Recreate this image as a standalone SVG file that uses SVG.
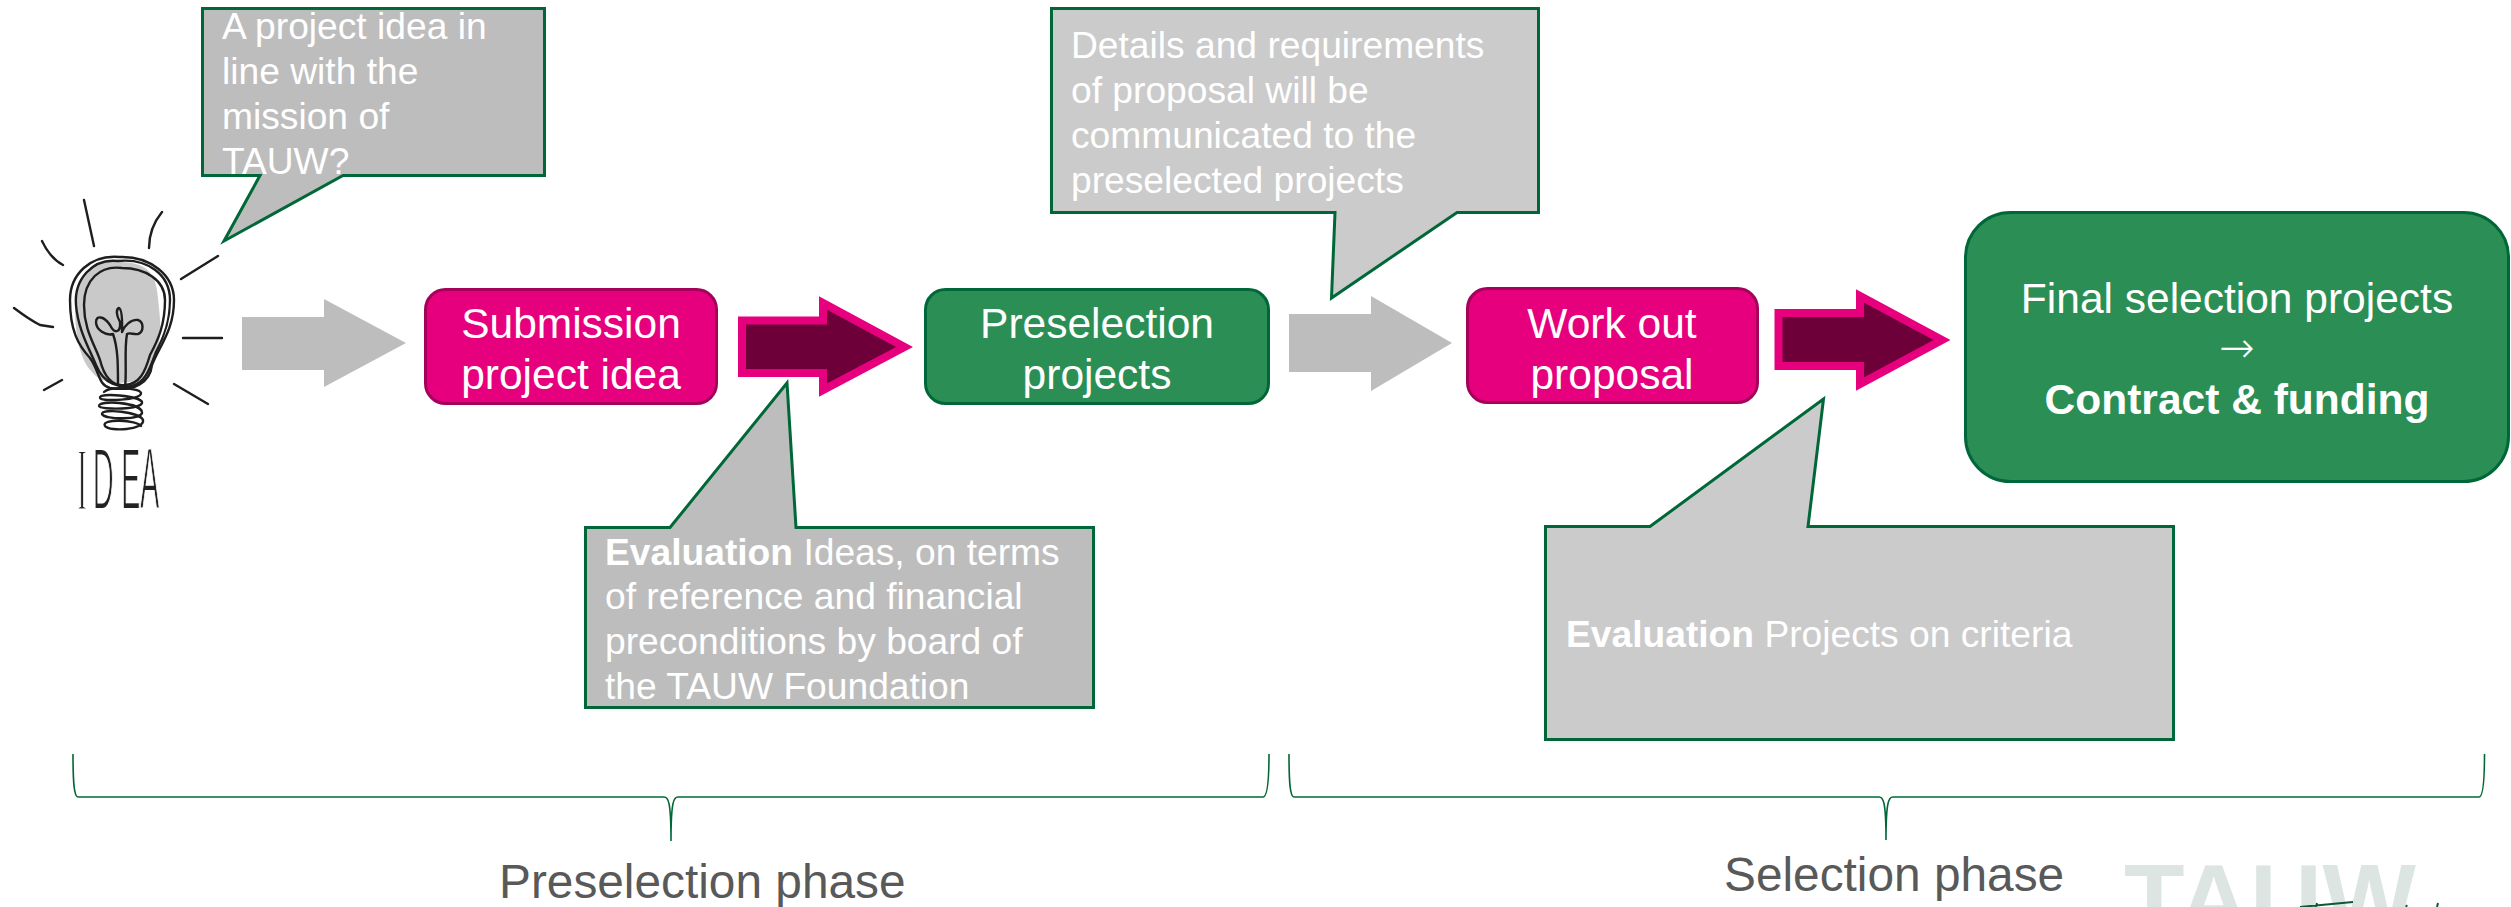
<svg xmlns="http://www.w3.org/2000/svg" width="2511" height="907" viewBox="0 0 2511 907">
<style>
text{font-family:"Liberation Sans",Arial,sans-serif}
.node{font-size:42.5px;fill:#fff;text-anchor:middle}
.call{font-size:37.2px;fill:#fff}
.phase{font-size:47.8px;fill:#595959}
.cd{fill:#bdbdbd;stroke:#006838;stroke-width:3}
.cl{fill:#cbcbcb;stroke:#006838;stroke-width:3}
.pink{fill:#e6007e;stroke:#a5005a;stroke-width:3}
.green{fill:#2b8f55;stroke:#006838;stroke-width:3}
.gray{fill:#bdbdbd}
.dark{fill:#6d0038;stroke:#e6007e;stroke-width:8;stroke-miterlimit:10}
.brace{fill:none;stroke:#006838;stroke-width:1.6}
.ink{fill:none;stroke:#1e1e1e;stroke-width:2.4;stroke-linecap:round;stroke-linejoin:round}
.b{font-weight:700}
</style>
<rect width="2511" height="907" fill="#fff"/>
<g id="logo">
<text x="2124" y="933" font-size="99" font-weight="700" fill="#dce5e1" textLength="292" lengthAdjust="spacing">TAUW</text>
<path d="M2300,907 L2353,902 M2317,903 L2316,907 M2407,905 L2406,907 M2438,903 L2437,907" fill="none" stroke="#0f5a34" stroke-width="2"/>
</g>
<g id="idea-bulb">
<path d="M118,262 C92,258 74,276 75,305 C75,335 80,360 92,372 C100,382 112,384 130,382 C146,380 150,366 156,352 C163,335 160,320 158,298 C156,272 146,262 118,262Z" fill="#c9c9c9"/>
<path class="ink" d="M84,200 L94,246 M162,212 Q149,228 149,248 M42,241 Q50,258 63,265 M218,256 L181,279 M14,308 Q30,320 40,325 L53,327 M183,338 L222,338 M62,380 L44,390 M174,384 L208,404"/>
<path class="ink" d="M120,257 C90,254 70,275 70,300 C70,330 78,345 90,358 C100,372 98,385 110,388 C135,392 150,382 152,365 C160,345 174,330 174,300 C174,275 150,256 120,257Z"/>
<path class="ink" d="M122,268 C100,265 84,280 84,305 C84,330 95,345 100,360 C105,380 115,386 125,385 C140,384 145,372 150,355 C158,340 165,325 165,300 C165,280 145,268 122,268Z"/>
<path class="ink" d="M118,261 C92,258 74,280 76,305 C78,330 90,350 96,365 C104,385 120,388 132,386 C146,382 150,368 156,352 C165,335 170,320 170,300 C170,275 148,258 118,261Z"/>
<path class="ink" d="M118,385 C118,365 118,348 113,334 C106,336 96,330 96,322 C96,315 104,316 110,325 C115,335 121,332 120,322 C116,315 116,309 119,308 C123,310 122,325 122,332 C124,326 131,319 138,320 C144,322 144,332 138,334 C134,335 130,332 127,334 C124,350 127,370 125,388"/>
<path class="ink" d="M104,392 C110,386 140,388 141,393 C142,400 102,402 100,398 C98,392 140,396 142,402 C144,410 100,410 99,406 C98,400 140,402 142,412 C144,420 104,420 102,414 C102,408 140,412 143,420 C145,430 110,432 105,426 C100,418 138,420 141,426"/>
<text transform="translate(76,509) scale(0.33,1)" font-size="88" fill="#222" stroke="#fff" stroke-width="2"><tspan x="4" font-family="Liberation Serif">I</tspan><tspan x="51">D</tspan><tspan x="136">E</tspan><tspan x="194">A</tspan></text>
</g>
<g id="connectors">
<polygon id="arrow-1" class="gray" points="242,317 324,317 324,299 406,343 324,387 324,370 242,370"/>
<polygon id="arrow-2" class="dark" points="742,320.5 823,320.5 823,303 904.5,347 823,390 823,373 742,373"/>
<polygon id="arrow-3" class="gray" points="1289,314 1371,314 1371,296 1452,343 1371,391 1371,372 1289,372"/>
<polygon id="arrow-4" class="dark" points="1778.5,313 1860,313 1860,296 1942,340 1860,384 1860,366 1778.5,366"/>
<path id="brace-1" class="brace" d="M73,754 C73,782 74,797 78,797 L664,797 C668,797 671,800 671,841 C671,800 674,797 678,797 L1263,797 C1267,797 1269,782 1269,754"/>
<path id="brace-2" class="brace" d="M1289,754 C1289,782 1290,797 1294,797 L1879,797 C1883,797 1886,800 1886,840 C1886,800 1889,797 1893,797 L2479,797 C2483,797 2484.5,782 2484.5,754"/>
</g>
<g id="callout-idea">
<path class="cd" d="M202.5,8.5 H544.5 V175.5 H343 L224,241 L260,175.5 H202.5Z"/>
<text class="call" x="222" y="39">A project idea in</text>
<text class="call" x="222" y="84">line with the</text>
<text class="call" x="222" y="129">mission of</text>
<text class="call" x="222" y="174">TAUW?</text>
</g>
<g id="submission">
<rect class="pink" x="425.5" y="289.5" width="291" height="114" rx="20"/>
<text class="node" x="571" y="338">Submission</text>
<text class="node" x="571" y="389">project idea</text>
</g>
<g id="preselection">
<rect class="green" x="925.5" y="289.5" width="343" height="114" rx="20"/>
<text class="node" x="1097" y="338">Preselection</text>
<text class="node" x="1097" y="389">projects</text>
</g>
<g id="callout-details">
<path class="cl" d="M1051.5,8.5 H1538.5 V212.5 H1457 L1331.5,298 L1335,212.5 H1051.5Z"/>
<text class="call" x="1071" y="57.5">Details and requirements</text>
<text class="call" x="1071" y="102.5">of proposal will be</text>
<text class="call" x="1071" y="147.5">communicated to the</text>
<text class="call" x="1071" y="192.5">preselected projects</text>
</g>
<g id="work-out">
<rect class="pink" x="1467.5" y="288.5" width="290" height="114" rx="20"/>
<text class="node" x="1612" y="337.5">Work out</text>
<text class="node" x="1612" y="388.5">proposal</text>
</g>
<g id="final">
<rect class="green" x="1965.5" y="212.5" width="543" height="269" rx="45"/>
<text class="node" x="2237" y="313">Final selection projects</text>
<text class="node" x="2237" y="362" style="font-family:'DejaVu Sans ExtraLight','DejaVu Sans',sans-serif;font-weight:200">→</text>
<text class="node b" x="2237" y="414">Contract &amp; funding</text>
</g>
<g id="callout-eval-ideas">
<path class="cd" d="M585.5,527.5 H670 L787,383 L796,527.5 H1093.5 V707.5 H585.5Z"/>
<text class="call" x="605" y="565">
<tspan class="b">Evaluation</tspan> Ideas, on terms</text>
<text class="call" x="605" y="609">of reference and financial</text>
<text class="call" x="605" y="654">preconditions by board of</text>
<text class="call" x="605" y="699">the TAUW Foundation</text>
</g>
<g id="callout-eval-projects">
<path class="cl" d="M1545.5,526.5 H1650 L1823.5,399 L1808,526.5 H2173.5 V739.5 H1545.5Z"/>
<text class="call" x="1566" y="647"><tspan class="b">Evaluation</tspan> Projects on criteria</text>
</g>
<g id="phases">
<text class="phase" x="499" y="898">Preselection phase</text>
<text class="phase" x="1724" y="891">Selection phase</text>
</g>
</svg>
